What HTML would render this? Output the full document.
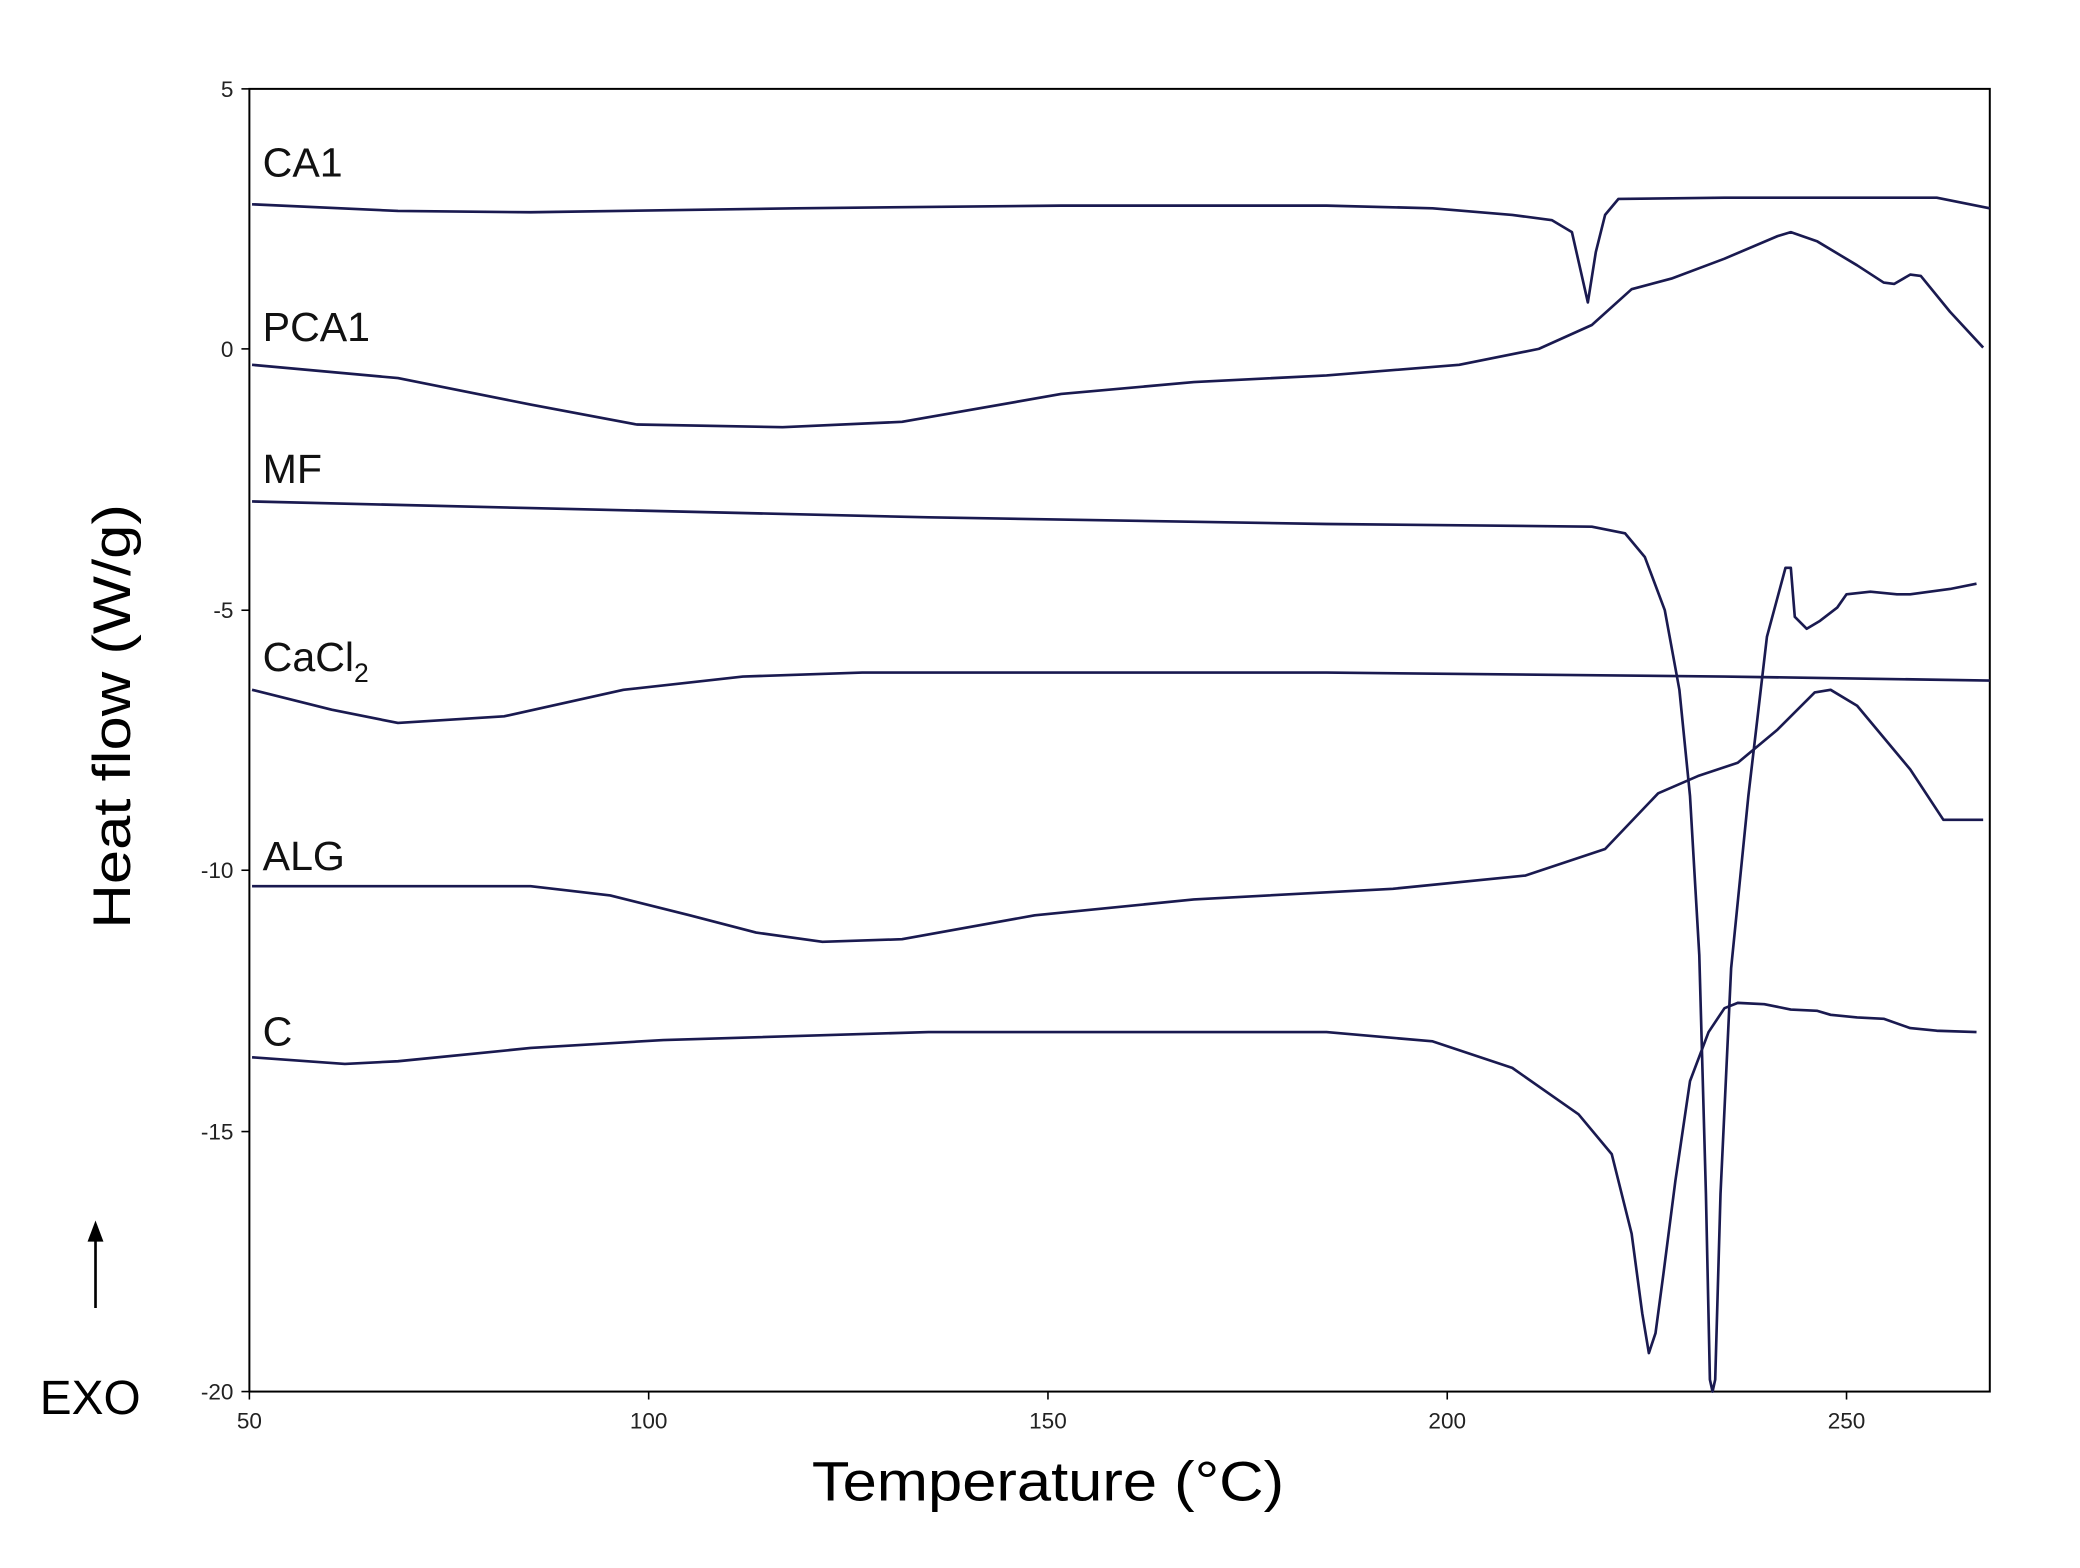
<!DOCTYPE html>
<html><head><style>html,body{margin:0;padding:0;background:#fff}svg{display:block}</style></head>
<body>
<svg width="2080" height="1568" viewBox="0 0 1568 1182" preserveAspectRatio="none" xmlns="http://www.w3.org/2000/svg" font-family="Liberation Sans, sans-serif">
<rect width="1568" height="1182" fill="#fff"/>
<rect x="188" y="67" width="1312" height="982" fill="none" stroke="#000" stroke-width="1.5"/>
<g stroke="#000" stroke-width="1.2">
<line x1="182" y1="67" x2="188" y2="67"/><line x1="182" y1="263" x2="188" y2="263"/><line x1="182" y1="460" x2="188" y2="460"/><line x1="182" y1="656" x2="188" y2="656"/><line x1="182" y1="853" x2="188" y2="853"/><line x1="182" y1="1049" x2="188" y2="1049"/>
<line x1="188" y1="1049" x2="188" y2="1055"/><line x1="489" y1="1049" x2="489" y2="1055"/><line x1="790" y1="1049" x2="790" y2="1055"/><line x1="1091" y1="1049" x2="1091" y2="1055"/><line x1="1392" y1="1049" x2="1392" y2="1055"/>
</g>
<g font-size="17" fill="#222" text-anchor="end">
<text x="176" y="73">5</text><text x="176" y="269">0</text><text x="176" y="466">-5</text><text x="176" y="662">-10</text><text x="176" y="859">-15</text><text x="176" y="1055">-20</text>
</g>
<g font-size="17" fill="#222" text-anchor="middle">
<text x="188" y="1077">50</text><text x="489" y="1077">100</text><text x="790" y="1077">150</text><text x="1091" y="1077">200</text><text x="1392" y="1077">250</text>
</g>
<text x="790" y="1131" font-size="42" text-anchor="middle" fill="#000" textLength="356" lengthAdjust="spacingAndGlyphs">Temperature (°C)</text>
<text transform="translate(98,540) rotate(-90)" font-size="40" text-anchor="middle" fill="#000" textLength="320" lengthAdjust="spacingAndGlyphs">Heat flow (W/g)</text>
<text x="30" y="1066" font-size="36" fill="#000">EXO</text>
<line x1="72" y1="986" x2="72" y2="932" stroke="#000" stroke-width="2"/>
<polygon points="72,920 66,936 78,936" fill="#000"/>
<g font-size="31" fill="#111">
<text x="198" y="133">CA1</text><text x="198" y="257">PCA1</text><text x="198" y="364">MF</text>
<text x="198" y="506">CaCl<tspan font-size="20" dy="8">2</tspan></text>
<text x="198" y="656">ALG</text><text x="198" y="788">C</text>
</g>
<g fill="none" stroke="#1a1a50" stroke-width="2" stroke-linejoin="round">
<polyline points="190,154 300,159 400,160 600,157 800,155 1000,155 1080,157 1140,162 1170,166 1185,175 1197,228 1203,190 1210,162 1220,150 1300,149 1460,149 1500,157"/>
<polyline points="190,275 300,285 400,305 480,320 590,322 680,318 800,297 900,288 1000,283 1100,275 1160,263 1200,245 1230,218 1260,210 1300,195 1340,178 1350,175 1370,182 1400,200 1420,213 1428,214 1440,207 1448,208 1470,235 1495,262"/>
<polyline points="190,378 400,383 700,390 1000,395 1200,397 1225,402 1240,420 1255,460 1266,520 1274,600 1281,720 1286,900 1289,1040 1291,1049 1293,1040 1297,900 1305,730 1318,600 1332,480 1346,428 1350,428 1353,465 1362,474 1372,468 1385,458 1392,448 1410,446 1430,448 1440,448 1470,444 1490,440"/>
<polyline points="190,520 250,535 300,545 380,540 470,520 560,510 650,507 1000,507 1300,510 1500,513"/>
<polyline points="190,668 400,668 460,675 520,690 570,703 620,710 680,708 780,690 900,678 1050,670 1150,660 1210,640 1250,598 1280,585 1310,575 1340,550 1368,522 1380,520 1400,532 1440,580 1465,618 1495,618"/>
<polyline points="190,797 260,802 300,800 400,790 500,784 700,778 1000,778 1080,785 1140,805 1190,840 1215,870 1230,930 1238,990 1243,1020 1248,1005 1254,960 1263,890 1274,815 1288,778 1300,760 1310,756 1330,757 1350,761 1370,762 1380,765 1400,767 1420,768 1440,775 1460,777 1490,778"/>
</g>
</svg>
</body></html>
